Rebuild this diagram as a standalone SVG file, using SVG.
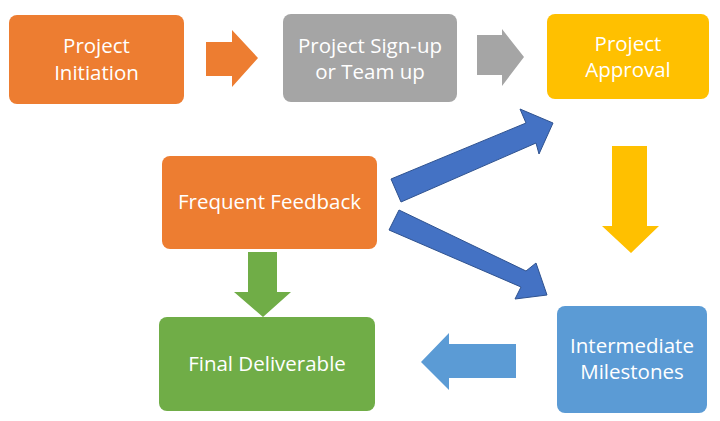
<svg xmlns="http://www.w3.org/2000/svg" width="720" height="421" viewBox="0 0 720 421">
  <style>
    .label { font-family: "Open Sans", "Liberation Sans", sans-serif; font-size: 20.5px; fill: #ffffff; text-anchor: middle; }
    .orange { fill: #ED7D31; }
    .gray { fill: #A5A5A5; }
    .yellow { fill: #FFC000; }
    .blue { fill: #5B9BD5; }
    .green { fill: #70AD47; }
    .dblue { fill: #4472C4; stroke: #2F528F; stroke-width: 1; stroke-linejoin: miter; }
  </style>

  <!-- nodes -->
  <g id="project-initiation">
    <rect class="orange" x="9" y="15" width="175" height="89" rx="8"/>
    <text class="label" x="96.5" y="53">Project</text>
    <text class="label" x="96.5" y="80">Initiation</text>
  </g>
  <g id="project-signup">
    <rect class="gray" x="283" y="14" width="174" height="88" rx="8"/>
    <text class="label" x="370" y="53">Project Sign-up</text>
    <text class="label" x="370" y="79">or Team up</text>
  </g>
  <g id="project-approval">
    <rect class="yellow" x="547" y="14" width="162" height="85" rx="8"/>
    <text class="label" x="628" y="51">Project</text>
    <text class="label" x="628" y="77">Approval</text>
  </g>
  <g id="frequent-feedback">
    <rect class="orange" x="162" y="156" width="215" height="93" rx="8"/>
    <text class="label" x="269.5" y="209">Frequent Feedback</text>
  </g>
  <g id="final-deliverable">
    <rect class="green" x="159" y="317" width="216" height="94" rx="8"/>
    <text class="label" x="267" y="371">Final Deliverable</text>
  </g>
  <g id="intermediate-milestones">
    <rect class="blue" x="557" y="306" width="150" height="107" rx="8"/>
    <text class="label" x="632" y="353">Intermediate</text>
    <text class="label" x="632" y="379">Milestones</text>
  </g>

  <!-- connectors: block arrows -->
  <g id="connectors">
    <polygon class="orange" points="206,42 232,42 232,30 258,58 232,87 232,76 206,76"/>
    <polygon class="gray" points="477,35 502,35 502,29 524,57 502,86 502,75 477,75"/>
    <polygon class="yellow" points="612,146 647,146 647,226 659,226 631,253 602,226 612,226"/>
    <polygon class="green" points="248,252 277,252 277,292 291,292 263,317 234,292 248,292"/>
    <polygon class="blue" points="516,344 516,378 449,378 449,390 421,362 449,333 449,344"/>
    <polygon class="dblue" points="391,179 526,123 520,109 553,123 539,154 536,143 401,202"/>
    <polygon class="dblue" points="399,210 526,271 536,263 547,295 515,299 521,287 389,230"/>
  </g>
</svg>
